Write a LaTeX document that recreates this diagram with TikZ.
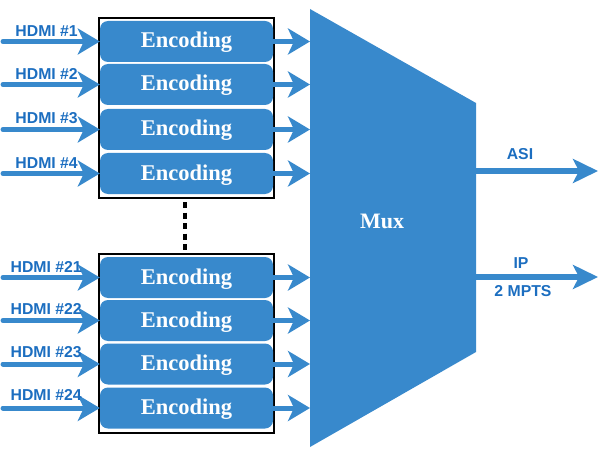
\documentclass[tikz,border=0pt]{standalone}
\usepackage{fontspec}
\setmainfont{Liberation Serif}
\newfontfamily\lsans{Liberation Sans}
\usetikzlibrary{arrows.meta}
\definecolor{boxblue}{RGB}{56,137,204}
\definecolor{labblue}{RGB}{28,110,192}
\begin{document}
\begin{tikzpicture}[x=1pt,y=-1pt,
 enc/.style={fill=boxblue, rounded corners=8pt, minimum width=173pt, minimum height=41pt, inner sep=0pt, text height=16pt, text depth=3pt, text=white, font=\bfseries\fontsize{22.5}{22.5}\selectfont},
 lab/.style={inner sep=0pt, text=labblue, font=\lsans\bfseries\fontsize{15.8}{15.8}\selectfont},
 flow/.style={draw=boxblue, line width=5pt, -{Stealth[length=22pt,width=26pt,inset=6pt]}},
 outflow/.style={draw=boxblue, line width=5.5pt, -{Stealth[length=25pt,width=24pt,inset=6pt]}},
 grp/.style={draw=black, line width=1.1pt, inner sep=0pt}
]
\useasboundingbox (0,0) rectangle (599,457);
% groups
\node[grp, minimum width=175pt, minimum height=180pt] (g1) at (186.5,108) {};
\node[grp, minimum width=175pt, minimum height=179pt] (g2) at (186.5,343.5) {};
% mux
\fill[boxblue] (310,9) -- (476,103) -- (476,352) -- (310,447) -- cycle;
\node[inner sep=0pt, anchor=base, text=white, font=\bfseries\fontsize{22}{22}\selectfont] (mux) at (382,228) {Mux};
% encoders, their inputs and outputs
\foreach \n/\y/\lx/\ly in {1/41.5/78/37,2/84.5/78/80,3/129.5/78/124,4/173.5/78/168,21/277.5/82/272,22/320.5/82/314,23/364/82/357,24/408/82/400}{
  \node[enc] (e\n) at (186.5,\y) {Encoding};
  \coordinate (i\n) at (3,\y);
  \coordinate (m\n) at (310,\y);
  \draw[flow, line cap=round] (i\n) -- (e\n.west);
  \draw[flow] ([xshift=-3pt]e\n.east) -- (m\n);
  \node[lab, anchor=base east] (l\n) at (\lx,\ly) {HDMI \#\n};
}
% dots
\coordinate (d1) at (185,202);
\coordinate (d2) at (185,252);
\draw[line width=4pt, dash pattern=on 6pt off 4.5pt] (d1) -- (d2);
% outputs of mux
\coordinate (asi0) at (476,171);
\coordinate (asi1) at (598,171);
\coordinate (ip0) at (476,277);
\coordinate (ip1) at (598,277);
\draw[outflow] (asi0) -- (asi1);
\draw[outflow] (ip0) -- (ip1);
\node[lab, anchor=base] (lasi) at (520,160) {ASI};
\node[lab, anchor=base] (lip) at (521,268) {IP};
\node[lab, anchor=base] (lmpts) at (523,296) {2 MPTS};
\end{tikzpicture}
\end{document}
